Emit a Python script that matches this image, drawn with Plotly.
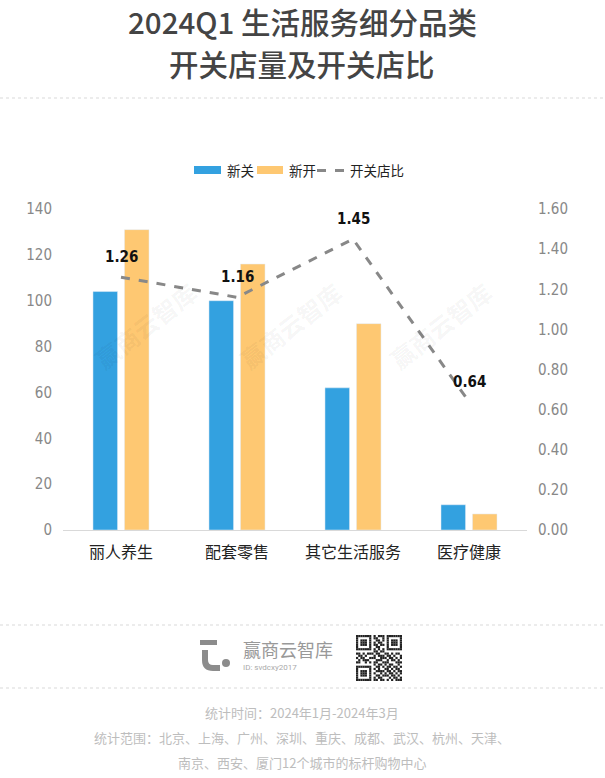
import plotly.graph_objects as go

categories = ["丽人养生", "配套零售", "其它生活服务", "医疗健康"]
closed = [104, 100, 62, 11]
opened = [131, 116, 90, 7]
ratio = [1.26, 1.16, 1.45, 0.64]
ratio_labels = ["1.26", "1.16", "1.45", "0.64"]

W, H = 605, 778
L, R = 63, 527
T, B = 209, 530

def xp(px):
    return (px - L) / (R - L)

def yp(py):
    return (B - py) / (B - T)

CJK = "Noto Sans CJK SC"
NUM = "DejaVu Sans Condensed, Liberation Sans Narrow, Roboto, sans-serif"
BLUE, ORANGE, GRAY = "#33A1E0", "#FEC872", "#888888"

fig = go.Figure()
fig.add_trace(go.Bar(x=categories, y=closed, name="新关", marker_color=BLUE))
fig.add_trace(go.Bar(x=categories, y=opened, name="新开", marker_color=ORANGE))
fig.add_trace(go.Scatter(
    x=categories, y=ratio, name="开关店比", yaxis="y2", mode="lines",
    line=dict(color=GRAY, width=3, dash="dash"),
))

shapes = []
# separators
for py in (98, 625, 688):
    shapes.append(dict(type="line", xref="paper", yref="paper",
                       x0=xp(0), x1=xp(W), y0=yp(py), y1=yp(py),
                       line=dict(color="#d9d9d9", width=1, dash="dot")))
# manual legend
shapes.append(dict(type="rect", xref="paper", yref="paper",
                   x0=xp(194), x1=xp(221), y0=yp(166), y1=yp(174),
                   fillcolor=BLUE, line=dict(width=0)))
shapes.append(dict(type="rect", xref="paper", yref="paper",
                   x0=xp(257), x1=xp(283), y0=yp(166), y1=yp(174),
                   fillcolor=ORANGE, line=dict(width=0)))
shapes.append(dict(type="line", xref="paper", yref="paper",
                   x0=xp(317), x1=xp(347), y0=yp(170.5), y1=yp(170.5),
                   line=dict(color=GRAY, width=3, dash="dash")))
# logo icon
shapes.append(dict(type="line", xref="paper", yref="paper",
                   x0=xp(200), x1=xp(217), y0=yp(642.5), y1=yp(642.5),
                   line=dict(color="#8c8c8c", width=5)))
shapes.append(dict(type="path", xref="paper", yref="paper",
                   path=f"M {xp(205)},{yp(650)} L {xp(205)},{yp(660)} Q {xp(205)},{yp(668)} {xp(213)},{yp(668)} L {xp(220)},{yp(668)}",
                   line=dict(color="#8c8c8c", width=6)))
shapes.append(dict(type="circle", xref="paper", yref="paper",
                   x0=xp(222), x1=xp(230), y0=yp(659), y1=yp(667),
                   fillcolor="#8c8c8c", line=dict(width=0)))
# simple QR-like block
qr = [
    "111111101011101111111",
    "100000101100101000001",
    "101110100110101011101",
    "101110101011001011101",
    "101110101101101011101",
    "100000100110001000001",
    "111111101010101111111",
    "000000001101100000000",
    "110101110110011010110",
    "011010001011101101001",
    "101100111001110110101",
    "010111000111001011010",
    "110010101100111000111",
    "000000001011010110010",
    "111111100110101101101",
    "100000101010011010110",
    "101110100111101101011",
    "101110101001010110101",
    "101110100110111011010",
    "100000101011000101101",
    "111111101101101010111",
]
qx0, qy0, cell = 356, 635, 46 / 21
for r, row in enumerate(qr):
    for c, v in enumerate(row):
        if v == "1":
            shapes.append(dict(type="rect", xref="paper", yref="paper",
                               x0=xp(qx0 + c * cell), x1=xp(qx0 + (c + 1) * cell),
                               y0=yp(qy0 + r * cell), y1=yp(qy0 + (r + 1) * cell),
                               fillcolor="#222222", line=dict(width=0)))

annotations = []
def txt(x, y, s, size, color, family=CJK, weight="normal", angle=0, xanchor="center"):
    annotations.append(dict(x=xp(x), y=yp(y), xref="paper", yref="paper", text=s,
                            showarrow=False, xanchor=xanchor, yanchor="middle",
                            textangle=angle,
                            font=dict(family=family, size=size, color=color, weight=weight)))

txt(302, 21, "2024Q1 生活服务细分品类", 29.5, "#444444", weight=500)
txt(302, 63, "开关店量及开关店比", 29.5, "#444444", weight=500)
for cx in (145, 290, 440):
    txt(cx, 325, "赢商云智库", 24, "rgba(0,0,0,0.05)", weight="bold", angle=-38)
# legend text
txt(225, 170, "新关", 13.5, "#222222", xanchor="left")
txt(287, 170, "新开", 13.5, "#222222", xanchor="left")
txt(348, 170, "开关店比", 13.5, "#222222", xanchor="left")
# ratio labels (data-anchored)
for c, v, s in zip(categories, ratio, ratio_labels):
    annotations.append(dict(x=c, y=v, xref="x", yref="y2", text=s, showarrow=False,
                            yanchor="bottom", yshift=9,
                            font=dict(family=NUM, size=15, color="#111111", weight="bold")))
txt(241, 649, "赢商云智库", 18, "#999999", xanchor="left")
txt(241, 667, "ID: svdcxy2017", 8, "#aaaaaa", family="Roboto", xanchor="left")
txt(302, 712, "统计时间：2024年1月-2024年3月", 13, "#bdbdbd")
txt(302, 737, "统计范围：北京、上海、广州、深圳、重庆、成都、武汉、杭州、天津、", 13, "#bdbdbd")
txt(302, 762, "南京、西安、厦门12个城市的标杆购物中心", 13, "#bdbdbd")

fig.update_layout(
    width=W, height=H,
    margin=dict(l=L, r=W - R, t=T, b=H - B),
    paper_bgcolor="white", plot_bgcolor="white",
    barmode="group", bargap=0.457, bargroupgap=0.22,
    showlegend=False,
    xaxis=dict(showgrid=False, showline=True, linecolor="#d9d9d9", linewidth=1,
               ticks="", ticklabelstandoff=8,
               tickfont=dict(family=CJK, size=16, color="#222222")),
    yaxis=dict(range=[0, 140], dtick=20, showgrid=False, zeroline=False,
               ticklabelstandoff=10,
               tickfont=dict(family=NUM, size=15, color="#888888")),
    yaxis2=dict(range=[0, 1.6], dtick=0.2, tickformat=".2f", overlaying="y", side="right",
                showgrid=False, zeroline=False, ticklabelstandoff=10,
                tickfont=dict(family=NUM, size=15, color="#888888")),
    shapes=shapes, annotations=annotations,
)

fig.write_html("out.html")
